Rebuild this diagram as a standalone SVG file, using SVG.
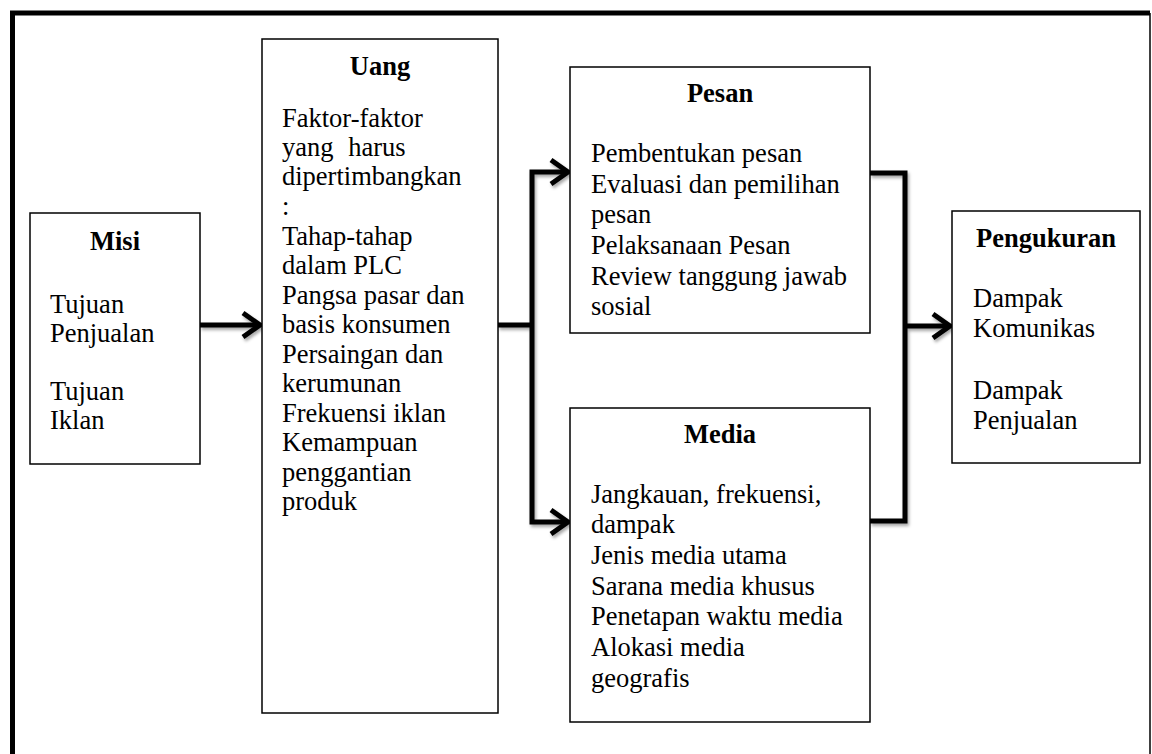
<svg xmlns="http://www.w3.org/2000/svg" width="1152" height="754" viewBox="0 0 1152 754">
<style>
.box{fill:#fff;stroke:#000;stroke-width:1.5}
.t{font-family:"Liberation Serif","Times New Roman",serif;font-size:26.5px;fill:#000}
.b{font-weight:bold;text-anchor:middle}
.c{fill:none;stroke:#000;stroke-width:5;stroke-linejoin:miter}
</style>
<defs>
<filter id="sh" x="-20%" y="-20%" width="140%" height="140%">
<feDropShadow dx="1.5" dy="2.5" stdDeviation="1.5" flood-color="#000" flood-opacity="0.35"/>
</filter>
</defs>
<rect width="1152" height="754" fill="#fff"/>
<g id="frame">
<path d="M12.5,760 V13 H1150" fill="none" stroke="#000" stroke-width="5"/>
<line x1="1150" y1="13" x2="1150" y2="760" stroke="#000" stroke-width="1.5"/>
</g>
<g id="connectors" filter="url(#sh)">
<path class="c" d="M200,325 H260"/>
<path class="c" d="M243,313 L260,325 L243,337"/>
<path class="c" d="M498,325 H532"/>
<path class="c" d="M568,172 H532 V522 H568"/>
<path class="c" d="M551,160 L568,172 L551,184"/>
<path class="c" d="M551,510 L568,522 L551,534"/>
<path class="c" d="M870,173 H905 V521 H870"/>
<path class="c" d="M905,326 H950"/>
<path class="c" d="M933,314 L950,326 L933,338"/>
</g>
<g id="misi">
<rect class="box" x="30" y="213" width="170" height="251"/>
<text class="t b" x="115" y="250">Misi</text>
<text class="t" x="50" y="313">Tujuan</text>
<text class="t" x="50" y="342">Penjualan</text>
<text class="t" x="50" y="400">Tujuan</text>
<text class="t" x="50" y="429">Iklan</text>
</g>
<g id="uang">
<rect class="box" x="262" y="39" width="236" height="674"/>
<text class="t b" x="380" y="75">Uang</text>
<text class="t" x="282" y="127">Faktor-faktor</text>
<text class="t" x="282" y="156" word-spacing="8">yang harus</text>
<text class="t" x="282" y="185">dipertimbangkan</text>
<text class="t" x="282" y="215">:</text>
<text class="t" x="282" y="245">Tahap-tahap</text>
<text class="t" x="282" y="274">dalam PLC</text>
<text class="t" x="282" y="304">Pangsa pasar dan</text>
<text class="t" x="282" y="333">basis konsumen</text>
<text class="t" x="282" y="363">Persaingan dan</text>
<text class="t" x="282" y="392">kerumunan</text>
<text class="t" x="282" y="422">Frekuensi iklan</text>
<text class="t" x="282" y="451">Kemampuan</text>
<text class="t" x="282" y="481">penggantian</text>
<text class="t" x="282" y="510">produk</text>
</g>
<g id="pesan">
<rect class="box" x="570" y="67" width="300" height="266"/>
<text class="t b" x="720" y="102">Pesan</text>
<text class="t" x="591" y="162">Pembentukan pesan</text>
<text class="t" x="591" y="193">Evaluasi dan pemilihan</text>
<text class="t" x="591" y="223">pesan</text>
<text class="t" x="591" y="254">Pelaksanaan Pesan</text>
<text class="t" x="591" y="285">Review tanggung jawab</text>
<text class="t" x="591" y="315">sosial</text>
</g>
<g id="media">
<rect class="box" x="570" y="408" width="300" height="314"/>
<text class="t b" x="720" y="443">Media</text>
<text class="t" x="591" y="503">Jangkauan, frekuensi,</text>
<text class="t" x="591" y="533">dampak</text>
<text class="t" x="591" y="564">Jenis media utama</text>
<text class="t" x="591" y="595">Sarana media khusus</text>
<text class="t" x="591" y="625">Penetapan waktu media</text>
<text class="t" x="591" y="656">Alokasi media</text>
<text class="t" x="591" y="687">geografis</text>
</g>
<g id="pengukuran">
<rect class="box" x="952" y="211" width="188" height="252"/>
<text class="t b" x="1046" y="247">Pengukuran</text>
<text class="t" x="973" y="307">Dampak</text>
<text class="t" x="973" y="337">Komunikas</text>
<text class="t" x="973" y="399">Dampak</text>
<text class="t" x="973" y="429">Penjualan</text>
</g>
</svg>
